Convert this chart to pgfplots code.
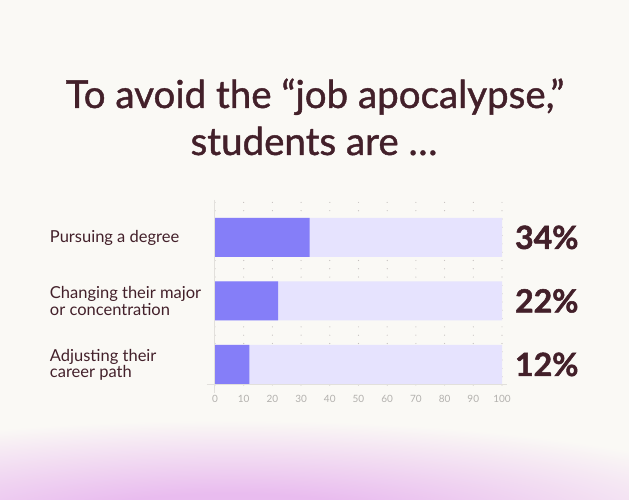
\documentclass[border=0pt]{standalone}
\usepackage{pgfplots}
\pgfplotsset{compat=1.18}
\usepackage{fontspec}
\setmainfont{Lato}
\newfontfamily\titlef{Lato}[FakeBold=1.1]
\newfontfamily\pctf{Lato}[FakeBold=1.6]
\definecolor{bg}{HTML}{FAF9F5}
\definecolor{tc}{HTML}{43202A}
\definecolor{darkbar}{HTML}{857EF8}
\definecolor{lightbar}{HTML}{E6E3FE}
\definecolor{pinkg}{HTML}{E9BCEF}
\definecolor{axc}{HTML}{E2E0DC}
\definecolor{tickc}{HTML}{B3B1AE}
\definecolor{dotc}{HTML}{C4BFBD}
\pgfdeclareradialshading{glow}{\pgfpoint{0bp}{0bp}}{color(0bp)=(pinkg); color(7bp)=(pinkg); color(25bp)=(bg); color(50bp)=(bg)}
\begin{document}
\begin{tikzpicture}[x=1pt,y=1pt]
\begin{scope}[shift={(-215pt,-115pt)}]
\fill[bg] (0,0) rectangle (629,500);
\begin{scope}
\clip (0,0) rectangle (629,500);
\shade[shading=glow] (230,-22) ellipse (560 and 102);
\end{scope}
\node[anchor=base, text=tc, font=\titlef\fontsize{38.5}{44}\selectfont, inner sep=0pt] at (315,392) {To avoid the “job apocalypse,”};
\node[anchor=base, text=tc, font=\titlef\fontsize{38.5}{44}\selectfont, inner sep=0pt] at (314,345) {students are \dots};
\end{scope}
\begin{axis}[
  scale only axis, width=287pt, height=185pt,
  xmin=0, xmax=100, ymin=-0.323, ymax=2.59,
  xbar, bar width=39pt,
  axis line style={draw=none},
  tick style={draw=none},
  xtick={0,10,...,100},
  xmajorgrids,
  grid style={dotc, line width=1.2pt, line cap=round, dash pattern=on 0pt off 8.3pt},
  xticklabel style={text=tickc, font=\fontsize{10}{12}\selectfont, yshift=-7pt},
  /pgf/number format/assume math mode=true,
  ytick={0,1,2},
  yticklabels={{Adjusting their\\career path},{Changing their major\\or concentration},{Pursuing a degree}},
  yticklabel style={align=left, anchor=west, xshift=-161pt, inner sep=0pt, text=tc, font=\fontsize{16.5}{14.8}\selectfont},
  clip=false,
]
\addplot[fill=lightbar, draw=none, bar shift=0pt] coordinates {(100,0) (100,1) (100,2)};
\addplot[fill=darkbar, draw=none, bar shift=0pt] coordinates {(12,0) (22,1) (33,2)};
\draw[axc, line width=1pt] (axis cs:-2.8,-0.323) -- (axis cs:101.7,-0.323);
\draw[axc, line width=1pt] (axis cs:0,2.59) -- (axis cs:0,-0.45);
\node[anchor=base west, inner sep=0pt, text=tc, font=\pctf\bfseries\fontsize{32}{36}\selectfont, yshift=-11.5pt] at (axis cs:104.5,2) {34\%};
\node[anchor=base west, inner sep=0pt, text=tc, font=\pctf\bfseries\fontsize{32}{36}\selectfont, yshift=-11.5pt] at (axis cs:104.5,1) {22\%};
\node[anchor=base west, inner sep=0pt, text=tc, font=\pctf\bfseries\fontsize{32}{36}\selectfont, yshift=-11.5pt] at (axis cs:104.5,0) {12\%};
\end{axis}
\pgfresetboundingbox
\path[use as bounding box] (-215pt,-115pt) rectangle (414pt,385pt);
\end{tikzpicture}
\end{document}
